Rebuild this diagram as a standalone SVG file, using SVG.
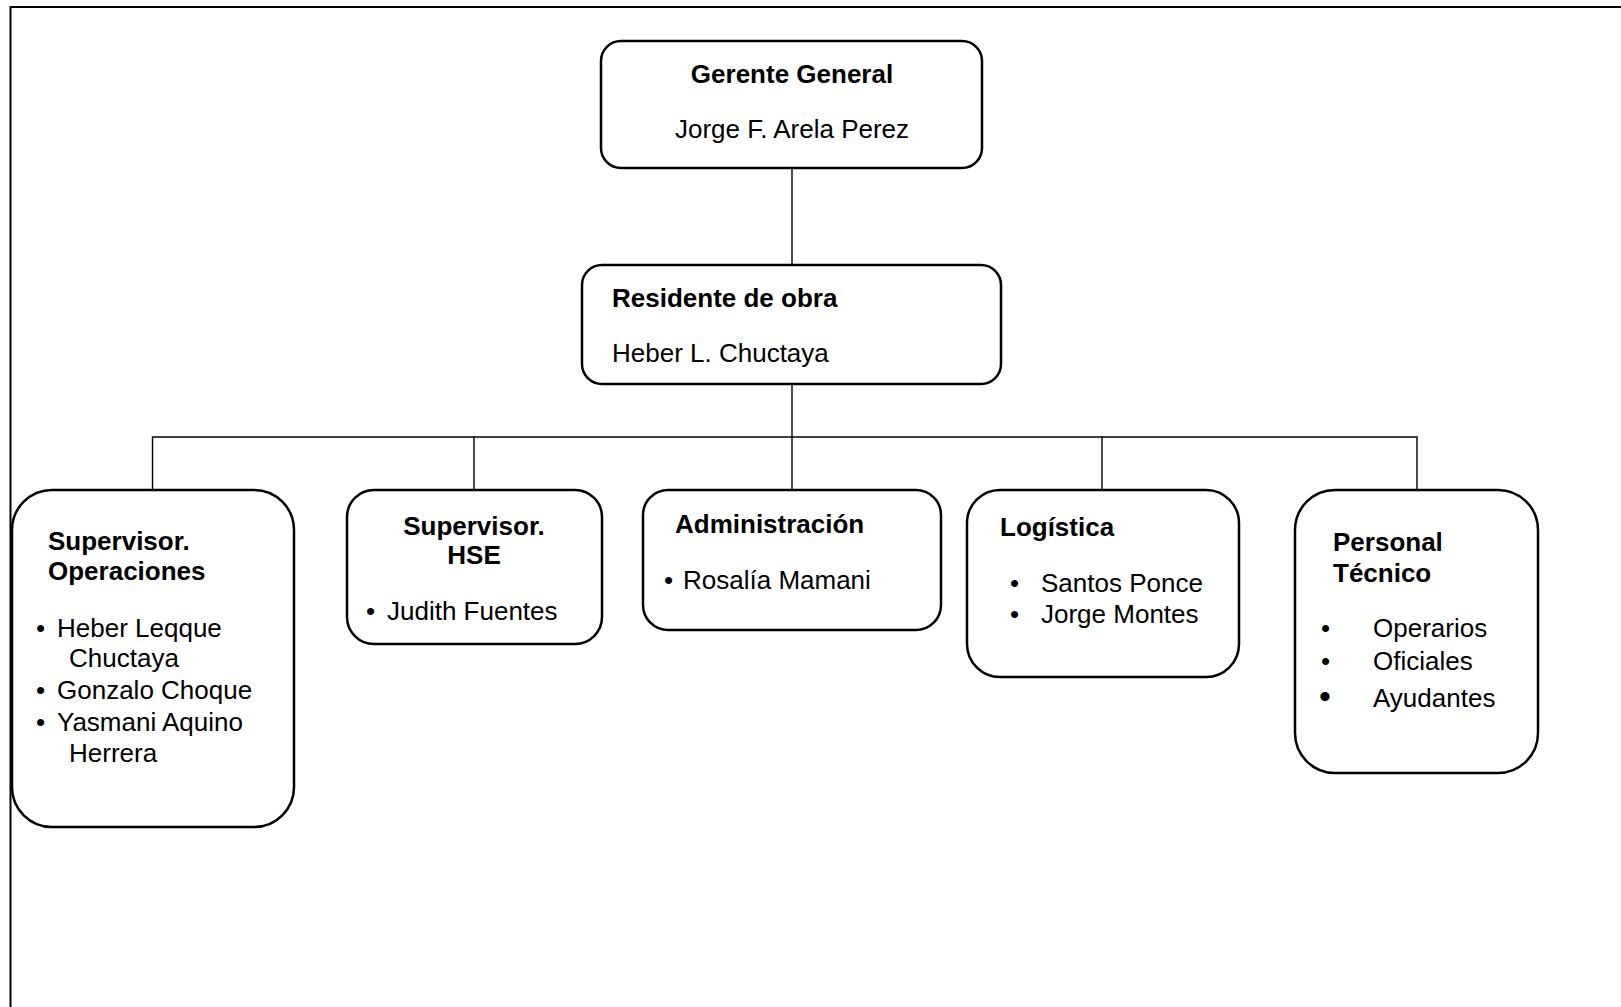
<svg xmlns="http://www.w3.org/2000/svg" width="1621" height="1007" viewBox="0 0 1621 1007">
<style>
.box{fill:#fff;stroke:#000;stroke-width:2.5}
.t{font-family:"Liberation Sans",Arial,sans-serif;font-size:26px;fill:#000}
.b{font-weight:bold}
.c{text-anchor:middle}
.conn{fill:none;stroke:#000;stroke-width:1.4}
</style>
<rect width="1621" height="1007" fill="#fff"/>
<path d="M10.5,1007 V7 H1621" fill="none" stroke="#000" stroke-width="2"/>
<g id="connectors">
<path class="conn" d="M792,168 V265"/>
<path class="conn" d="M792,384 V437"/>
<path class="conn" d="M152.5,490 V437 H1417 V490"/>
<path class="conn" d="M474,437 V490"/>
<path class="conn" d="M792,437 V490"/>
<path class="conn" d="M1102,437 V490"/>
</g>
<g id="gerente">
<rect class="box" x="601" y="41" width="381" height="127" rx="20"/>
<text class="t b c" x="792" y="83">Gerente General</text>
<text class="t c" x="792" y="138">Jorge F. Arela Perez</text>
</g>
<g id="residente">
<rect class="box" x="582" y="265" width="419" height="119" rx="20"/>
<text class="t b" x="612" y="307">Residente de obra</text>
<text class="t" x="612" y="362">Heber L. Chuctaya</text>
</g>
<g id="sup-operaciones">
<rect class="box" x="12" y="490" width="282" height="337" rx="40"/>
<text class="t b" x="48" y="550">Supervisor.</text>
<text class="t b" x="48" y="580">Operaciones</text>
<text class="t" x="36" y="637">•</text>
<text class="t" x="57" y="637">Heber Leqque</text>
<text class="t" x="69" y="667">Chuctaya</text>
<text class="t" x="36" y="699">•</text>
<text class="t" x="57" y="699">Gonzalo Choque</text>
<text class="t" x="36" y="731">•</text>
<text class="t" x="57" y="731">Yasmani Aquino</text>
<text class="t" x="69" y="762">Herrera</text>
</g>
<g id="sup-hse">
<rect class="box" x="347" y="490" width="255" height="154" rx="27"/>
<text class="t b c" x="474" y="535">Supervisor.</text>
<text class="t b c" x="474" y="564">HSE</text>
<text class="t" x="366" y="620">•</text>
<text class="t" x="387" y="620">Judith Fuentes</text>
</g>
<g id="administracion">
<rect class="box" x="643" y="490" width="298" height="140" rx="25"/>
<text class="t b" x="675" y="533">Administración</text>
<text class="t" x="664" y="589">•</text>
<text class="t" x="683" y="589">Rosalía Mamani</text>
</g>
<g id="logistica">
<rect class="box" x="967" y="490" width="272" height="187" rx="33"/>
<text class="t b" x="1000" y="536">Logística</text>
<text class="t" x="1010" y="592">•</text>
<text class="t" x="1041" y="592">Santos Ponce</text>
<text class="t" x="1010" y="623">•</text>
<text class="t" x="1041" y="623">Jorge Montes</text>
</g>
<g id="personal-tecnico">
<rect class="box" x="1295" y="490" width="243" height="283" rx="40"/>
<text class="t b" x="1333" y="551">Personal</text>
<text class="t b" x="1333" y="582">Técnico</text>
<text class="t" x="1321" y="637">•</text>
<text class="t" x="1373" y="637">Operarios</text>
<text class="t" x="1321" y="670">•</text>
<text class="t" x="1373" y="670">Oficiales</text>
<text class="t" x="1319" y="708" style="font-size:34px">•</text>
<text class="t" x="1373" y="707">Ayudantes</text>
</g>
</svg>
